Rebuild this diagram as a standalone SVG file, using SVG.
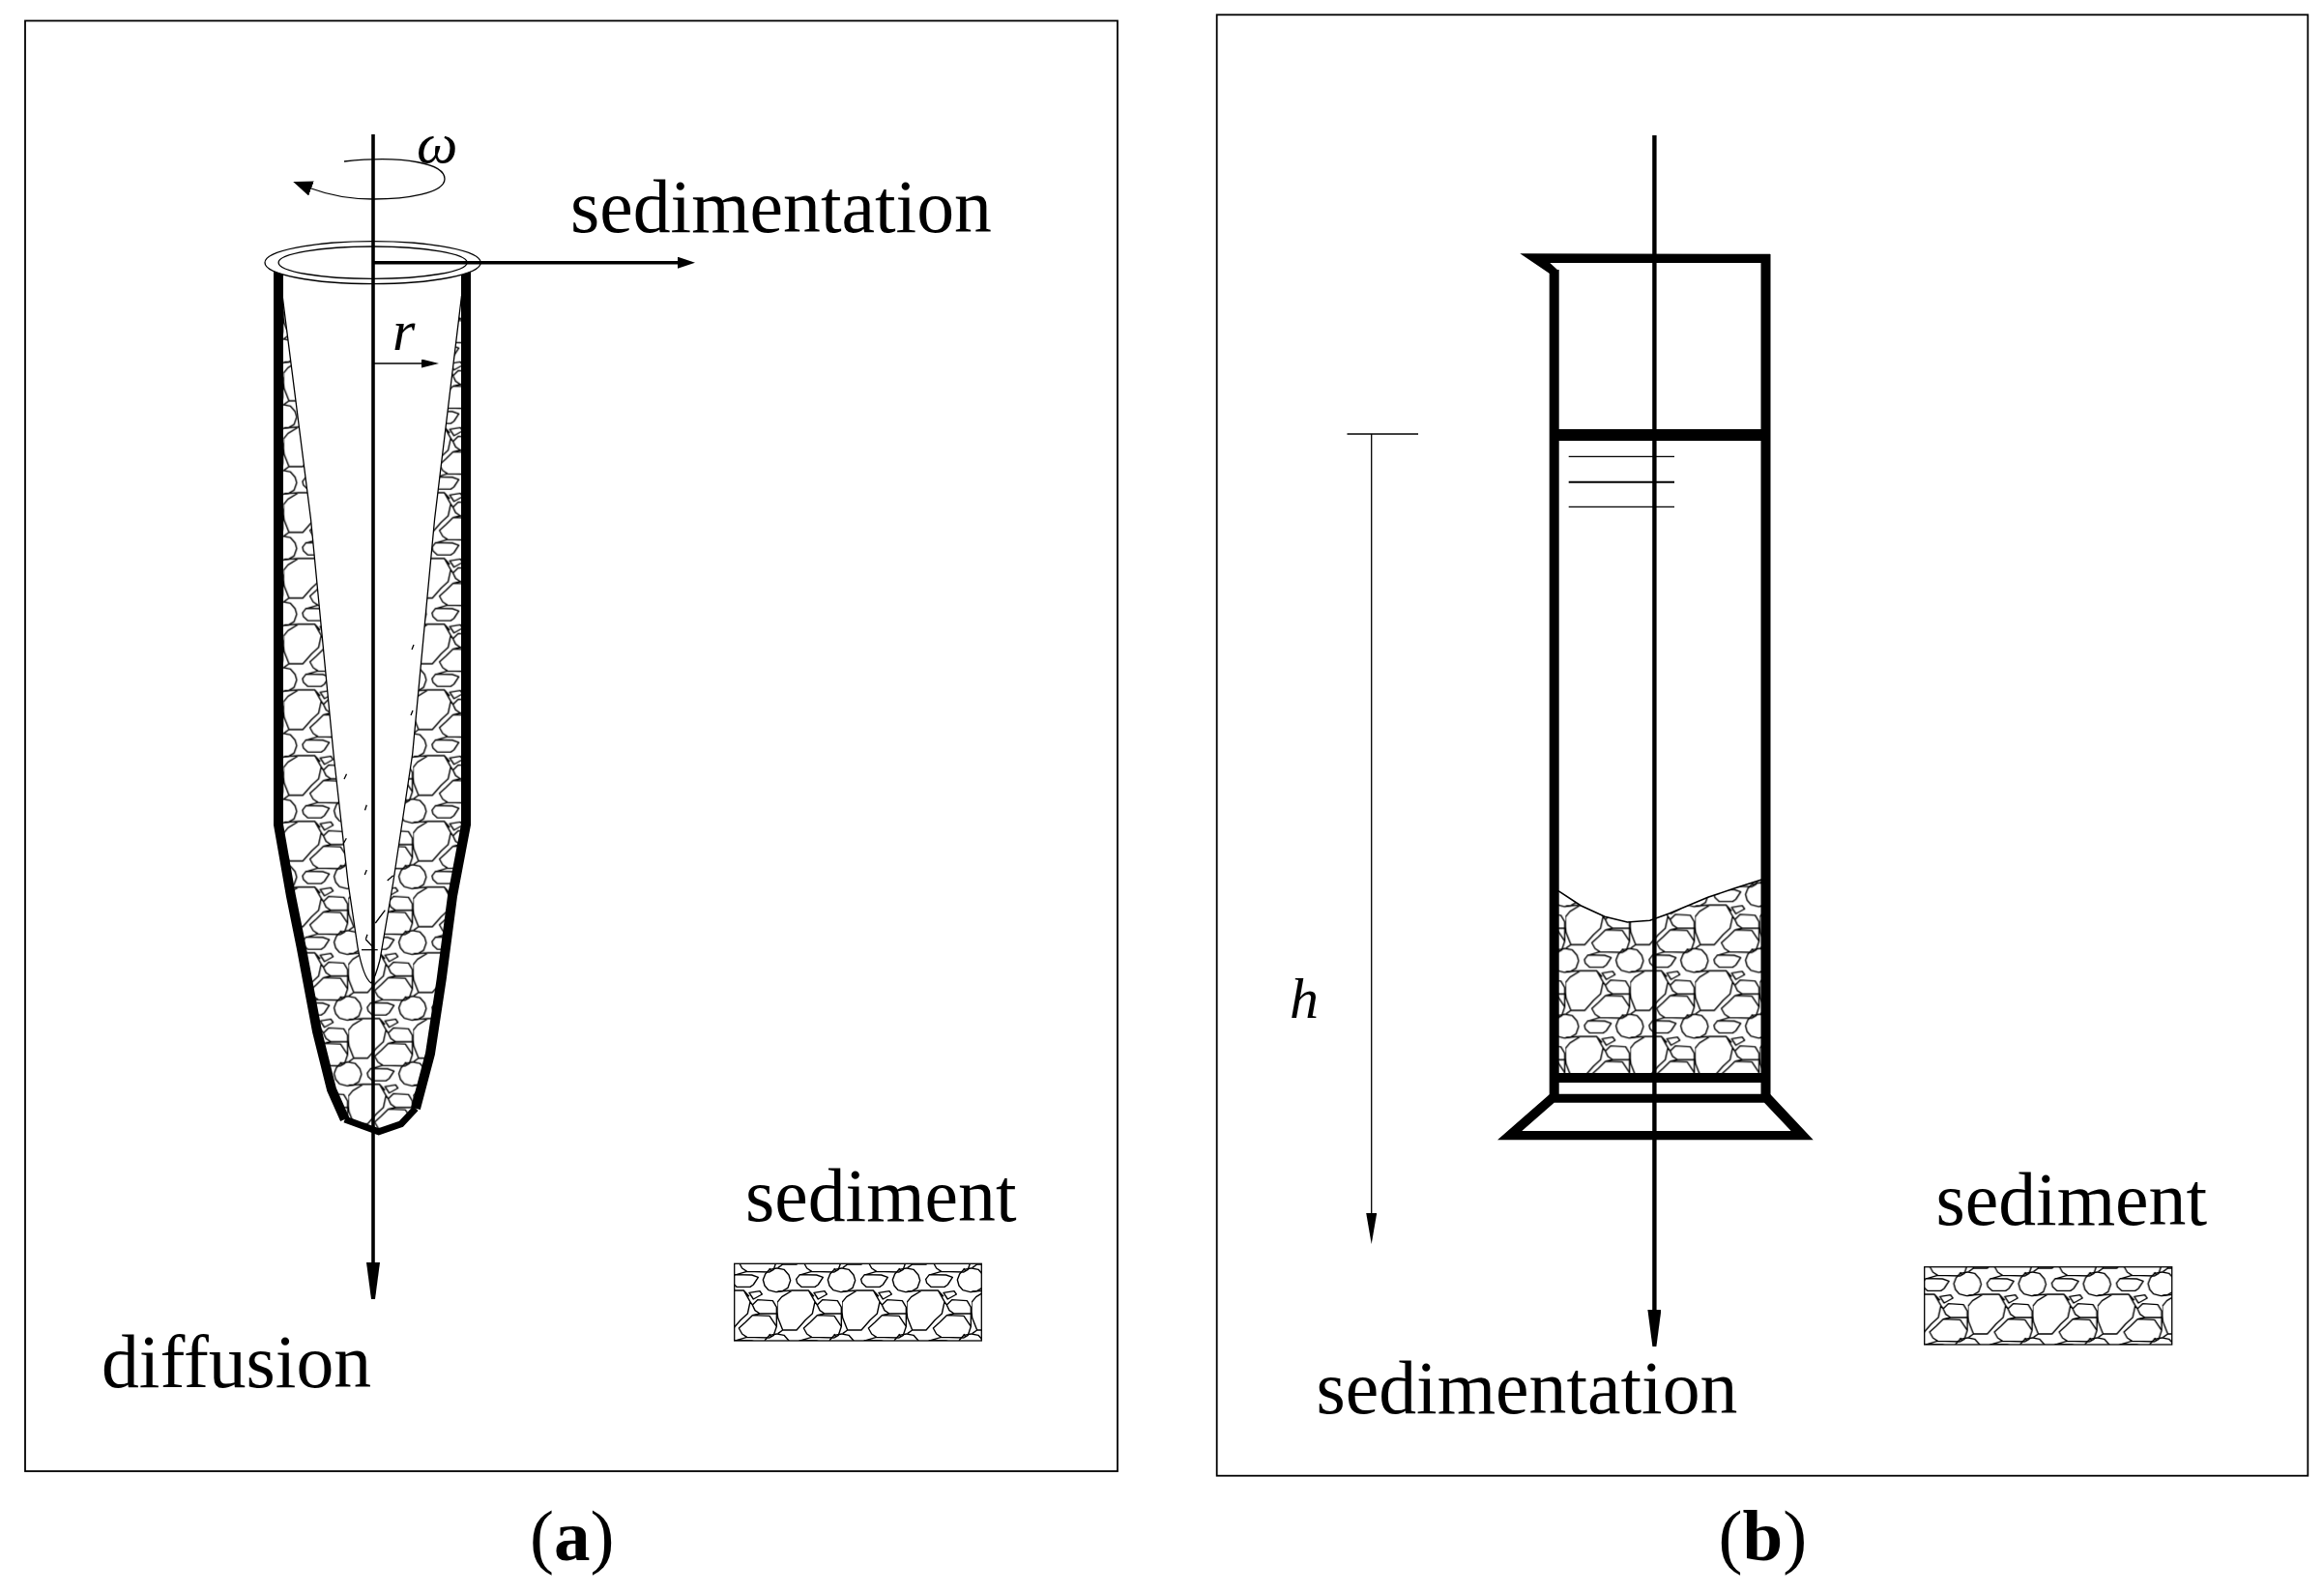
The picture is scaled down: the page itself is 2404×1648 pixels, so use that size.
<svg xmlns="http://www.w3.org/2000/svg" width="2404" height="1648" viewBox="0 0 2404 1648">
<style>
text{font-family:"Liberation Serif","Times New Roman",serif;fill:#000}
.lab{font-size:77.7px}
.sym{font-size:60px;font-style:italic}
.cap{font-size:75px}
.cap tspan{font-weight:bold}
.frame{fill:none;stroke:#000;stroke-width:1.8}
.thin{fill:none;stroke:#000;stroke-width:1.3}
.wall{fill:none;stroke:#000;stroke-width:10}
.axis{fill:none;stroke:#000;stroke-width:3.6}
.sed{stroke:#000;stroke-width:1.3}
.solid{fill:#000;stroke:none}
</style>
<defs>
<path id="cell" fill="none" stroke="#000" stroke-width="4.2" stroke-linejoin="round" d="M238 410L252 393L285 373L335 373L355 408L347 445L325 465L298 496L255 496L240 458L238 440ZM320 490L340 472L362 450L415 452L437 485L428 512L415 520L345 518L330 508ZM395 340L402 322L415 308L438 304L460 308L475 325L480 342L472 365L455 375L435 378L412 372L400 358ZM297 338L308 324L360 325L380 332L365 355L355 362L313 362L300 350ZM352 380L385 375L392 385L365 400ZM362 418L378 402L425 405L437 425L437 445L385 445L370 435ZM285 373L240 376M335 373L352 392M355 408L362 418M437 445L437 485M255 496L240 507M345 518L312 528M385 445L362 450M420 518L415 508"/>
<g id="tile">
<use href="#cell" transform="translate(-238 -373)"/>
<use href="#cell" transform="translate(-439 -373)"/>
<use href="#cell" transform="translate(-238 -577)"/>
<use href="#cell" transform="translate(-439 -577)"/>
<use href="#cell" transform="translate(-238 -169)"/>
<use href="#cell" transform="translate(-439 -169)"/>
</g>
<pattern id="sedA" patternUnits="userSpaceOnUse" width="201" height="204" patternTransform="translate(293.3 781.7) scale(.33333)"><rect width="201" height="204" fill="#fff"/><use href="#tile"/></pattern>
<pattern id="sedB" patternUnits="userSpaceOnUse" width="201" height="204" patternTransform="translate(1619.33 1004.33) scale(.33333)"><rect width="201" height="204" fill="#fff"/><use href="#tile"/></pattern>
<pattern id="sedLA" patternUnits="userSpaceOnUse" width="201" height="204" patternTransform="translate(804 1335) scale(.33333)"><rect width="201" height="204" fill="#fff"/><use href="#tile"/></pattern>
<pattern id="sedLB" patternUnits="userSpaceOnUse" width="201" height="204" patternTransform="translate(2035.7 1339) scale(.33333)"><rect width="201" height="204" fill="#fff"/><use href="#tile"/></pattern>
<marker id="headL" markerUnits="userSpaceOnUse" markerWidth="40" markerHeight="14" viewBox="0 0 40 14" refX="0" refY="7" orient="auto"><polygon points="0,0 38,5 38,9 0,14" fill="#000"/></marker>
<marker id="headM" markerUnits="userSpaceOnUse" markerWidth="18" markerHeight="12" viewBox="0 0 18 12" refX="0" refY="6" orient="auto"><polygon points="0,0 18,6 0,12" fill="#000"/></marker>
<marker id="headH" markerUnits="userSpaceOnUse" markerWidth="32" markerHeight="11" viewBox="0 0 32 11" refX="0" refY="5.5" orient="auto"><polygon points="0,0 32,5.5 0,11" fill="#000"/></marker>
<marker id="headS" markerUnits="userSpaceOnUse" markerWidth="18" markerHeight="9" viewBox="0 0 18 9" refX="0" refY="4.5" orient="auto"><polygon points="0,0 18,4.5 0,9" fill="#000"/></marker>
<marker id="headR" markerUnits="userSpaceOnUse" markerWidth="20" markerHeight="16" viewBox="0 0 20 16" refX="0" refY="8" orient="auto"><polygon points="0,0 20,8 0,16" fill="#000"/></marker>
</defs>
<rect width="2404" height="1648" fill="#fff"/>

<g id="panel-a">
<rect id="frame-a" class="frame" x="26" y="21.5" width="1130" height="1500.5"/>
<g id="tube">
<path fill="url(#sedA)" d="M288 280L288 853L311.7 980L328 1067L343 1127L356.7 1158L391.7 1170.7L415 1162.7L430 1146.7L445 1090L456.7 1013L468 927L482 853L482 280Z"/>
<path fill="#fff" d="M292 280L292 305L321.5 537L345 780L360 913L370 980Q376 1012 384 1017Q388 1012 393 993L406.7 913L426.7 780L449.6 537L477.5 306L477.5 280Z"/>
<path class="thin" d="M292 305L321.5 537L345 780L360 913L370 980Q376 1012 384 1017Q388 1012 393 993L406.7 913L426.7 780L449.6 537L477.5 306"/>
<path class="thin" d="M356 806L358.500 800.700M377.500 838.300L379.300 832.700M355 873.300L358.300 867.300M377.300 905L379.300 900M400.700 911L406.700 905.700M388.300 955L398.300 941.700M378.300 971.700L380 966.700M378.300 971.700L386 980M374 982.700L390.700 982.700M426 672L428 667M425 740L427 735"/>
<path class="wall" d="M288 280L288 853L301 927L311.700 980L328 1067L343 1127L356.700 1158"/>
<path class="wall" d="M482 280L482 853L468 927L456.700 1013L445 1090L430 1146.700"/>
<path fill="none" stroke="#000" stroke-width="7" d="M356.700 1158L391.700 1170.700L415 1162.700L430 1146.700"/>
<ellipse class="thin" style="fill:#fff" cx="385.600" cy="271.700" rx="111.600" ry="22"/>
<ellipse class="thin" cx="385.600" cy="271.700" rx="97.500" ry="16.700"/>
</g>
<g id="legend-a">
<rect class="sed" fill="url(#sedLA)" x="759.700" y="1307.300" width="255.600" height="79.700"/>
<text class="lab" x="771" y="1263">sediment</text>
</g>
<text id="label-sedimentation-a" class="lab" x="590" y="240">sedimentation</text>
<text id="label-diffusion" class="lab" x="105" y="1435">diffusion</text>
<text id="label-omega" class="sym" x="431" y="168">ω</text>
<text id="label-r" class="sym" x="406" y="362">r</text>
<text id="caption-a" class="cap" x="548" y="1614">(<tspan>a</tspan>)</text>
</g>

<g id="panel-b">
<rect id="frame-b" class="frame" x="1258.700" y="15.300" width="1128.600" height="1511.400"/>
<g id="cylinder">
<path fill="url(#sedB)" d="M1612 921.700L1635 936.700L1660 948.300L1683.300 954L1706.700 952.300L1726.700 945L1766.700 928.300L1793.300 919.300L1822.300 910L1822.300 1112L1612 1112Z"/>
<path class="thin" style="stroke-width:1.6" d="M1612 921.700L1635 936.700L1660 948.300L1683.300 954L1706.700 952.300L1726.700 945L1766.700 928.300L1793.300 919.300L1822.300 910"/>
<path class="solid" d="M1572.300 262.300L1831 262.800L1831 272L1612 272L1603.300 272L1612 280L1603.300 283.300Z"/>
<path class="wall" d="M1607.700 279L1607.700 1134"/>
<path class="wall" d="M1826.500 263L1826.500 1134"/>
<rect class="solid" x="1603" y="444" width="228" height="12"/>
<rect class="solid" x="1603" y="1110" width="228" height="10"/>
<path class="solid" fill-rule="evenodd" d="M1603.300 1131.700L1831 1131.700L1875.700 1179.300L1549 1179.300ZM1607.700 1140.700L1574.300 1170L1852.700 1170L1825 1140.700Z"/>
<path class="thin" d="M1622.700 472.300L1732 472.300M1622.700 524.300L1732 524.300"/>
<path fill="none" stroke="#000" stroke-width="2" d="M1622.700 498.700L1732 498.700"/>
</g>
<g id="legend-b">
<rect class="sed" fill="url(#sedLB)" x="1990.700" y="1310.700" width="256" height="80.300"/>
<text class="lab" x="2002.500" y="1266.700">sediment</text>
</g>
<text id="label-sedimentation-b" class="lab" x="1361.500" y="1461.700">sedimentation</text>
<text id="label-h" class="sym" x="1334" y="1053">h</text>
<text id="caption-b" class="cap" x="1777.500" y="1614">(<tspan>b</tspan>)</text>
</g>

<g id="connectors">
<path class="axis" d="M386 139L386 1306" marker-end="url(#headL)"/>
<path class="axis" d="M386 271.700L701 271.700" marker-end="url(#headM)"/>
<path class="thin" d="M386 376L436 376" marker-end="url(#headS)"/>
<path class="thin" d="M356 167C420 160 460 170 460 185C460 200 420 206 386 206C362 206 338 201 322 195" marker-end="url(#headR)"/>
<path class="axis" style="stroke-width:4.4" d="M1711.400 140L1711.400 1355" marker-end="url(#headL)"/>
<path class="thin" d="M1418.700 449L1418.700 1255" marker-end="url(#headH)"/>
<path class="thin" d="M1393.500 449L1467 449"/>
</g>
</svg>
